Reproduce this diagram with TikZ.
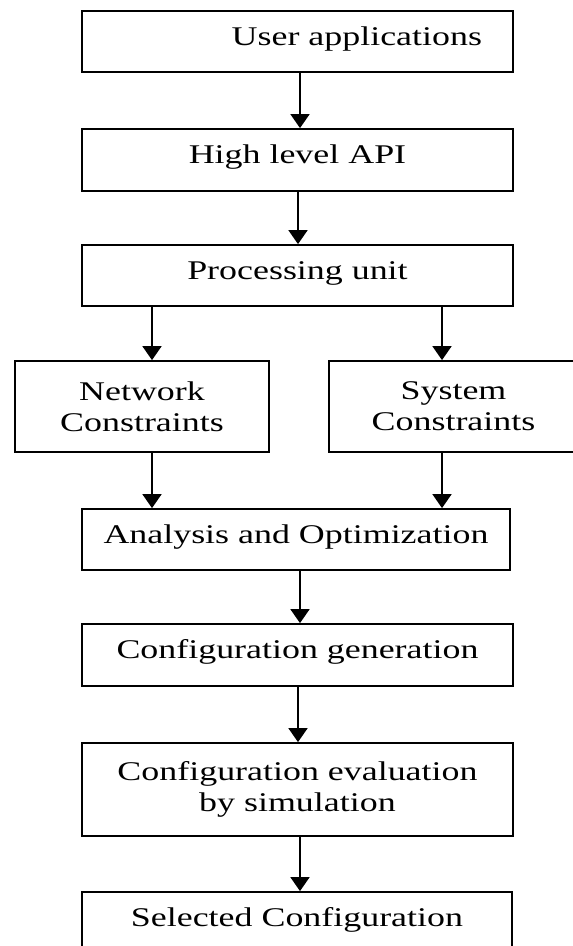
\documentclass[tikz,border=0pt]{standalone}
\usepackage{fontspec}
\setmainfont{Liberation Serif}[FakeStretch=1.33]
\usetikzlibrary{arrows.meta}
\begin{document}
\begin{tikzpicture}[x=1pt,y=-1pt,
  box/.style={draw=black, line width=1.8pt, rectangle, inner sep=0pt,
    font=\fontsize{27}{31}\selectfont, text height=13pt, text depth=6pt, align=center},
  box2/.style={draw=black, line width=1.8pt, rectangle, inner sep=0pt,
    font=\fontsize{27}{31}\selectfont, align=center},
  arr/.style={line width=1.8pt, -{Triangle[width=19pt,length=14pt]}}]
\useasboundingbox (0,0) rectangle (573,946);
\clip (0,0) rectangle (573,946);
\fill[white] (0,0) rectangle (573,946);
\node[box, minimum width=431pt, minimum height=61pt, text width=369pt, align=right] (b1) at (297.5,41.5) {User applications};
\node[box, minimum width=431pt, minimum height=62pt] (b2) at (297.5,160) {High level API};
\node[box, minimum width=431pt, minimum height=61pt] (b3) at (297.5,275.5) {Processing unit};
\node[box2, minimum width=254pt, minimum height=91pt] (b4) at (142,406.5) {Network\\Constraints};
\node[box2, minimum width=249pt, minimum height=91pt] (b5) at (453.5,406.5) {System\\Constraints};
\node[box, minimum width=428pt, minimum height=61pt] (b6) at (296,539.5) {Analysis and Optimization};
\node[box, minimum width=431pt, minimum height=62pt] (b7) at (297.5,655) {Configuration generation};
\node[box2, minimum width=431pt, minimum height=93pt] (b8) at (297.5,789.5) {Configuration evaluation\\by simulation};
\node[box, minimum width=430pt, minimum height=61pt] (b9) at (297,922.5) {Selected Configuration};
\draw[arr] ([xshift=2.5pt]b1.south) -- ([xshift=2.5pt]b2.north);
\draw[arr] ([xshift=0.5pt]b2.south) -- ([xshift=0.5pt]b3.north);
\draw[arr] ([xshift=-145.5pt]b3.south) -- ([xshift=10pt]b4.north);
\draw[arr] ([xshift=144.5pt]b3.south) -- ([xshift=-11.5pt]b5.north);
\draw[arr] ([xshift=10pt]b4.south) -- ([xshift=-144pt]b6.north);
\draw[arr] ([xshift=-11.5pt]b5.south) -- ([xshift=146pt]b6.north);
\draw[arr] ([xshift=4pt]b6.south) -- ([xshift=2.5pt]b7.north);
\draw[arr] ([xshift=0.5pt]b7.south) -- ([xshift=0.5pt]b8.north);
\draw[arr] ([xshift=2.5pt]b8.south) -- ([xshift=3pt]b9.north);
\end{tikzpicture}
\end{document}
